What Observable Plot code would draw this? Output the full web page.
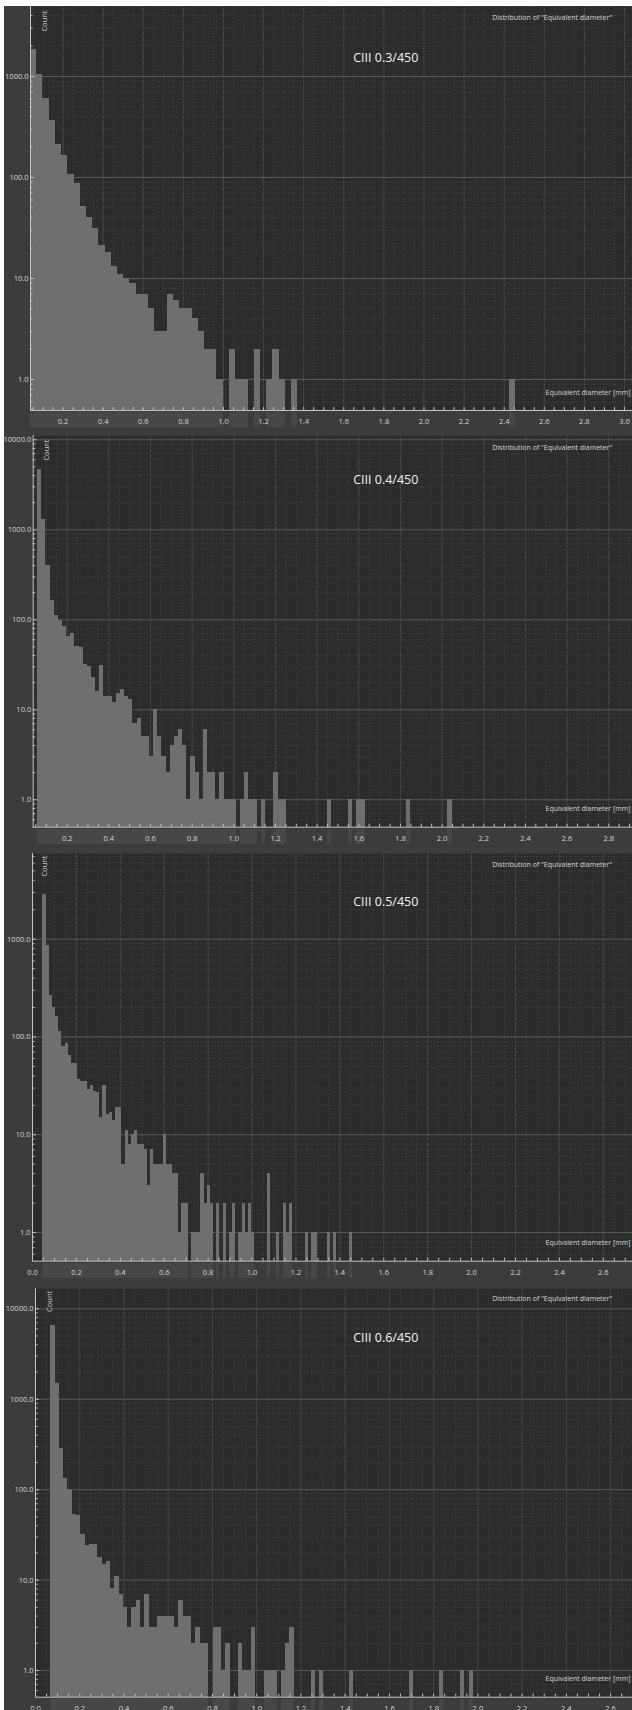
<!DOCTYPE html>
<html>
<head>
<meta charset="utf-8">
<script src="https://cdn.jsdelivr.net/npm/d3@7"></script>
<script src="https://cdn.jsdelivr.net/npm/@observablehq/plot@0.6"></script>
<style>
  html, body { margin: 0; padding: 0; background: #ffffff; }
  body { width: 632px; height: 1710px; position: relative; overflow: hidden; }
  .panel { position: absolute; left: 0; width: 632px; }
  .edge { position: absolute; left: 0; top: 0; width: 4px; height: 1710px; background: #ffffff; z-index: 5; }
</style>
</head>
<body>
<div id="p1" class="panel"></div>
<div id="p2" class="panel"></div>
<div id="p3" class="panel"></div>
<div id="p4" class="panel"></div>
<div class="edge"></div>
<script>
// ---------- DATA (counts per bin of "Equivalent diameter" [mm]) ----------
const titles = ["CIII 0.3/450", "CIII 0.4/450", "CIII 0.5/450", "CIII 0.6/450"];

const p1BinStart = 0.0374, p1BinWidth = 0.031;
const p1Counts = [
  1850, 1055, 606, 364, 212, 164, 107, 88, 52, 40,
  31, 21, 18, 13, 11, 10, 9, 7, 7, 5,
  3, 3, 7, 6, 5, 5, 4, 3, 2, 2,
  1, 0, 2, 1, 1, 0, 2, 0, 1, 2,
  1, 0, 1, 0, 0, 0, 0, 0, 0, 0,
  0, 0, 0, 0, 0, 0, 0, 0, 0, 0,
  0, 0, 0, 0, 0, 0, 0, 0, 0, 0,
  0, 0, 0, 0, 0, 0, 0, 1
];

const p2BinStart = 0.058, p2BinWidth = 0.0199;
const p2Counts = [
  4640, 1291, 401, 164, 112, 98, 84, 65, 70, 50,
  49, 32, 30, 23, 16, 31, 14, 14, 12, 15,
  17, 14, 13, 7, 8, 5, 5, 3, 10, 5,
  3, 2, 4, 5, 6, 4, 1, 3, 2, 1,
  6, 2, 2, 1, 2, 1, 1, 1, 0, 1,
  2, 1, 1, 0, 1, 0, 0, 2, 1, 1,
  0, 0, 0, 0, 0, 0, 0, 0, 0, 0,
  1, 0, 0, 0, 0, 1, 0, 1, 1, 0,
  0, 0, 0, 0, 0, 0, 0, 0, 0, 1,
  0, 0, 0, 0, 0, 0, 0, 0, 0, 1
];

const p3BinStart = 0.0473, p3BinWidth = 0.0144;
const p3Counts = [
  2866, 855, 268, 199, 161, 113, 80, 86, 64, 54,
  53, 37, 35, 35, 29, 32, 28, 27, 15, 32,
  16, 17, 14, 19, 19, 5, 11, 8, 10, 11,
  8, 8, 7, 3, 7, 5, 5, 5, 10, 5,
  5, 4, 4, 1, 2, 2, 0, 1, 1, 1,
  4, 2, 3, 2, 0, 2, 0, 2, 0, 1,
  2, 0, 1, 2, 1, 2, 1, 0, 0, 0,
  0, 4, 0, 0, 1, 0, 2, 1, 2, 0,
  0, 0, 0, 1, 0, 1, 1, 0, 0, 0,
  1, 0, 1, 0, 0, 0, 0, 1
];

const p4BinStart = 0.0696, p4BinWidth = 0.01929;
const p4Counts = [
  6530, 1479, 287, 134, 100, 53, 52, 32, 24, 25,
  25, 18, 15, 16, 8, 11, 7, 5, 3, 5,
  6, 3, 7, 3, 3, 4, 4, 4, 4, 3,
  6, 4, 4, 2, 3, 2, 2, 0, 3, 3,
  1, 2, 0, 0, 2, 1, 1, 3, 0, 0,
  1, 1, 1, 0, 1, 2, 3, 0, 0, 0,
  0, 1, 0, 1, 0, 0, 0, 0, 0, 0,
  1, 0, 0, 0, 0, 0, 0, 0, 0, 0,
  0, 0, 0, 0, 1, 0, 0, 0, 0, 0,
  0, 1, 0, 0, 0, 0, 1, 0, 1
];

// tick labels
const p1XLabels = [0.2, 0.4, 0.6, 0.8, 1.0, 1.2, 1.4, 1.6, 1.8, 2.0, 2.2, 2.4, 2.6, 2.8, 3.0];
const p2XLabels = [0.2, 0.4, 0.6, 0.8, 1.0, 1.2, 1.4, 1.6, 1.8, 2.0, 2.2, 2.4, 2.6, 2.8];
const p3XLabels = [0.0, 0.2, 0.4, 0.6, 0.8, 1.0, 1.2, 1.4, 1.6, 1.8, 2.0, 2.2, 2.4, 2.6];
const p4XLabels = [0.0, 0.2, 0.4, 0.6, 0.8, 1.0, 1.2, 1.4, 1.6, 1.8, 2.0, 2.2, 2.4, 2.6];
const p1YLabels = [1, 10, 100, 1000];
const p2YLabels = [1, 10, 100, 1000, 10000];
const p3YLabels = [1, 10, 100, 1000];
const p4YLabels = [1, 10, 100, 1000, 10000];

const yAxisName = "Count";
const headerText = 'Distribution of "Equivalent diameter"';
const xAxisName = "Equivalent diameter [mm]";

// ---------- LAYOUT (positions / styles) ----------
const layouts = [
  {top: 6,    height: 424, marginTop: 0,    marginBottom: 20,   marginLeft: 30,   xDomain: [0.0374, 3.04], yDomain: [0.4934, 4930],  titleDy: 46.7, headDy: 9,   countDx: 10.7, countDy: 4},
  {top: 430,  height: 418, marginTop: 5,    marginBottom: 21.3, marginLeft: 32.7, xDomain: [0.037, 2.914], yDomain: [0.496, 11160],  titleDy: 39.3, headDy: 10,  countDx: 10.6, countDy: 4},
  {top: 848,  height: 430, marginTop: 5,    marginBottom: 17.3, marginLeft: 32,   xDomain: [0, 2.733],     yDomain: [0.509, 7520],   titleDy: 43.3, headDy: 8.3, countDx: 8.7,  countDy: 2},
  {top: 1278, height: 432, marginTop: 10.3, marginBottom: 13.3, marginLeft: 35,   xDomain: [0, 2.699],     yDomain: [0.507, 16650],  titleDy: 44,   headDy: 7.7, countDx: 10.7, countDy: 2}
];

const panels = [
  {id: "p1", title: titles[0], start: p1BinStart, width: p1BinWidth, counts: p1Counts, xLabels: p1XLabels, yLabels: p1YLabels, layout: layouts[0]},
  {id: "p2", title: titles[1], start: p2BinStart, width: p2BinWidth, counts: p2Counts, xLabels: p2XLabels, yLabels: p2YLabels, layout: layouts[1]},
  {id: "p3", title: titles[2], start: p3BinStart, width: p3BinWidth, counts: p3Counts, xLabels: p3XLabels, yLabels: p3YLabels, layout: layouts[2]},
  {id: "p4", title: titles[3], start: p4BinStart, width: p4BinWidth, counts: p4Counts, xLabels: p4XLabels, yLabels: p4YLabels, layout: layouts[3]}
];

const C = {
  outer: "#3c3c3c", plot: "#2c2c2c", bar: "#6f6f6f", rug: "#474747",
  gridMinor: "#444444", gridMajorX: "#525252", gridMajorY: "#5a5a5a",
  axis: "#c4c4c4", text: "#d6d6d6", title: "#f2f2f2"
};
const FONT = "'Open Sans', 'Noto Sans', sans-serif";

function makePanel(cfg) {
  const L = cfg.layout;
  const W = 632;
  const [x0, x1] = L.xDomain, [y0, y1] = L.yDomain;
  const plotW = W - L.marginLeft;
  const plotH = L.height - L.marginTop - L.marginBottom;

  const bins = cfg.counts
    .map((c, i) => ({x1: cfg.start + i * cfg.width, x2: cfg.start + (i + 1) * cfg.width, count: c}))
    .filter(d => d.count > 0);

  const xMinor = d3.range(Math.ceil(x0 * 20), Math.floor(x1 * 20) + 1).map(i => i / 20);
  const xMajor = d3.range(Math.ceil(x0 * 5), Math.floor(x1 * 5) + 1).map(i => i / 5);
  const yMajor = [], yMinor = [];
  for (let e = -1; e <= 5; e++) {
    const d = Math.pow(10, e);
    if (d >= y0 && d <= y1) yMajor.push(d);
    for (let m = 2; m <= 9; m++) { const v = m * d; if (v >= y0 && v <= y1) yMinor.push(v); }
  }

  return Plot.plot({
    width: W,
    height: L.height,
    marginTop: L.marginTop,
    marginBottom: L.marginBottom,
    marginLeft: L.marginLeft,
    marginRight: 0,
    style: {background: C.outer, fontFamily: FONT, fontSize: "7.5px", color: C.text, overflow: "visible"},
    x: {type: "linear", domain: L.xDomain, axis: null},
    y: {type: "log", domain: L.yDomain, axis: null},
    marks: [
      Plot.frame({fill: C.plot, stroke: null}),
      // grid
      Plot.ruleX(xMinor, {stroke: C.gridMinor, strokeDasharray: "1,2"}),
      Plot.ruleX(xMajor, {stroke: C.gridMajorX, strokeDasharray: "1,1"}),
      Plot.ruleY(yMinor, {stroke: C.gridMinor, strokeDasharray: "1,2"}),
      Plot.ruleY(yMajor, {stroke: C.gridMajorY}),
      // histogram bars
      Plot.rect(bins, {x1: "x1", x2: "x2", y1: y0, y2: "count", fill: C.bar, shapeRendering: "crispEdges"}),
      // occupied-bin band beneath the axis
      Plot.rect(bins, {x1: "x1", x2: "x2", y1: y0, y2: y0, insetTop: 2, insetBottom: -17, fill: C.rug, shapeRendering: "crispEdges"}),
      // axis lines
      Plot.ruleY([y0], {stroke: C.axis}),
      Plot.ruleX([x0], {stroke: C.axis}),
      // ticks
      Plot.tickX(xMinor, {x: d => d, stroke: C.axis, insetTop: plotH - 3}),
      Plot.tickY(yMinor, {y: d => d, stroke: C.axis, insetRight: plotW - 2.5}),
      Plot.tickY(yMajor, {y: d => d, stroke: C.axis, insetRight: plotW - 4}),
      // tick labels
      Plot.text(cfg.xLabels, {x: d => d, y: y0, dy: 11, text: d => d.toFixed(1), fill: C.text, fontSize: 7.5, textAnchor: "middle"}),
      Plot.text(cfg.yLabels, {x: x0, y: d => d, dx: -2, text: d => d.toFixed(1), fill: C.text, fontSize: 7.5, textAnchor: "end"}),
      // axis names and headings
      Plot.text([yAxisName], {frameAnchor: "top-left", text: d => d, rotate: -90, textAnchor: "end", dx: L.countDx, dy: L.countDy, fill: C.text, fontSize: 7.5}),
      Plot.text([xAxisName], {frameAnchor: "bottom-right", text: d => d, textAnchor: "end", dx: -2, dy: -16, fill: C.text, fontSize: 7}),
      Plot.text([headerText], {frameAnchor: "top-right", text: d => d, textAnchor: "end", dx: -20.3, dy: L.headDy, fill: C.text, fontSize: 7}),
      Plot.text([cfg.title], {frameAnchor: "top-right", text: d => d, textAnchor: "start", dx: -279.3, dy: L.titleDy, fill: C.title, fontSize: 12.5})
    ]
  });
}

for (const cfg of panels) {
  const el = document.getElementById(cfg.id);
  el.style.top = cfg.layout.top + "px";
  el.style.height = cfg.layout.height + "px";
  el.appendChild(makePanel(cfg));
}
</script>
</body>
</html>
